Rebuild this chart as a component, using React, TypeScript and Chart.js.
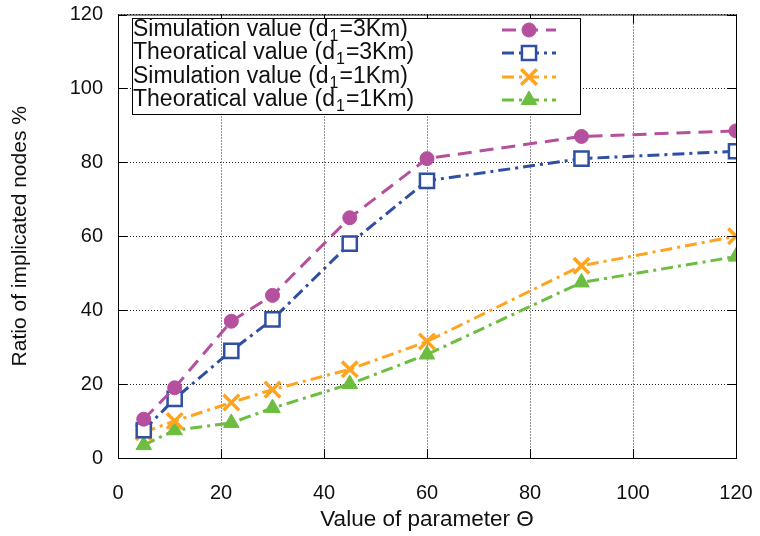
import React, { useEffect, useRef } from "react";
import { Chart, registerables } from "chart.js";
import { drawPoint } from "chart.js/helpers";

Chart.register(...registerables);

const thetaValues = [5, 11, 22, 30, 45, 60, 90, 120];
const sim3Km = [10.5, 19, 37, 44, 65, 81, 87, 88.5];
const theo3Km = [7.5, 16, 29, 37.5, 58, 75, 81, 83];
const sim1Km = [7, 10, 15, 18.5, 24, 31.5, 52, 60];
const theo1Km = [3.5, 7.5, 9.5, 13.5, 20, 28, 47.5, 54.5];

const legendNames = [
  ["Simulation value (d", "1", "=3Km)"],
  ["Theoratical value (d", "1", "=3Km)"],
  ["Simulation value (d", "1", "=1Km)"],
  ["Theoratical value (d", "1", "=1Km)"],
];

const xTitle = "Value of parameter \u0398";
const yTitle = "Ratio of implicated nodes %";

const FONT = "'Liberation Sans', Arial, sans-serif";

const toPts = (ys: number[]) => thetaValues.map((x, i) => ({ x, y: ys[i] }));

const frameAndLegend = {
  id: "frameAndLegend",
  afterDraw(chart: any) {
    const ctx = chart.ctx;
    const { left, right, top, bottom } = chart.chartArea;
    const xs = chart.scales.x;
    const ys = chart.scales.y;
    ctx.save();
    ctx.strokeStyle = "#000";
    ctx.lineWidth = 1;
    ctx.setLineDash([]);
    ctx.strokeRect(left + 0.5, top + 0.5, right - left, bottom - top);
    ctx.beginPath();
    xs.ticks.forEach((t: any) => {
      const px = Math.round(xs.getPixelForValue(t.value)) + 0.5;
      ctx.moveTo(px, bottom);
      ctx.lineTo(px, bottom - 9);
      ctx.moveTo(px, top);
      ctx.lineTo(px, top + 9);
    });
    ys.ticks.forEach((t: any) => {
      const py = Math.round(ys.getPixelForValue(t.value)) + 0.5;
      ctx.moveTo(left, py);
      ctx.lineTo(left + 9, py);
      ctx.moveTo(right, py);
      ctx.lineTo(right - 9, py);
    });
    ctx.stroke();

    const bx = 132, by = 18, bw = 448, bh = 96;
    ctx.fillStyle = "#fff";
    ctx.fillRect(bx, by, bw, bh);
    ctx.strokeStyle = "#000";
    ctx.strokeRect(bx + 0.5, by + 0.5, bw, bh);
    const rows = [30, 53, 77, 100];
    chart.data.datasets.forEach((ds: any, i: number) => {
      const yy = rows[i];
      const parts = legendNames[i];
      ctx.fillStyle = "#111";
      ctx.textBaseline = "middle";
      ctx.textAlign = "left";
      ctx.font = `23px ${FONT}`;
      let x = 133;
      ctx.fillText(parts[0], x, yy);
      x += ctx.measureText(parts[0]).width + 1;
      ctx.font = `16px ${FONT}`;
      ctx.fillText(parts[1], x, yy + 7);
      x += ctx.measureText(parts[1]).width + 1;
      ctx.font = `23px ${FONT}`;
      ctx.fillText(parts[2], x, yy);
      ctx.strokeStyle = ds.borderColor;
      ctx.lineWidth = 3;
      ctx.setLineDash(ds.borderDash || []);
      ctx.beginPath();
      ctx.moveTo(502, yy);
      ctx.lineTo(556, yy);
      ctx.stroke();
      ctx.setLineDash([]);
      ctx.fillStyle = ds.pointBackgroundColor;
      ctx.strokeStyle = ds.pointBorderColor;
      ctx.lineWidth = ds.pointBorderWidth;
      drawPoint(ctx, { pointStyle: ds.pointStyle, radius: ds.pointRadius, rotation: 0, borderWidth: ds.pointBorderWidth }, 529, yy);
    });
    ctx.restore();
  },
};

export default function App() {
  const ref = useRef<HTMLCanvasElement>(null);
  useEffect(() => {
    document.body.style.margin = "0";
    const mk = (label: string, data: number[], color: string, dash: number[], style: string, radius: number, fill: string, bw: number) => ({
      label,
      data: toPts(data),
      borderColor: color,
      backgroundColor: color,
      borderWidth: 3,
      borderDash: dash,
      pointStyle: style,
      pointRadius: radius,
      pointBackgroundColor: fill,
      pointBorderColor: color,
      pointBorderWidth: bw,
      tension: 0,
    });
    const chart = new Chart(ref.current!, {
      type: "line",
      data: {
        datasets: [
          mk("sim3", sim3Km, "#b5509e", [14, 8], "circle", 7, "#b5509e", 1),
          mk("theo3", theo3Km, "#2f4fa3", [12, 5, 3, 5], "rect", 10, "#ffffff", 2.5),
          mk("sim1", sim1Km, "#ffa41f", [12, 5, 3, 5], "crossRot", 11, "#ffa41f", 3.5),
          mk("theo1", theo1Km, "#6dbd40", [12, 5, 3, 5], "triangle", 9, "#6dbd40", 1),
        ],
      },
      options: {
        animation: false,
        responsive: false,
        layout: { padding: { top: 12, right: 24, left: 0, bottom: 0 } },
        plugins: { legend: { display: false }, tooltip: { enabled: false } },
        scales: {
          x: {
            type: "linear",
            min: 0,
            max: 120,
            afterFit: (s: any) => { s.height = 78; s.paddingLeft = 0; s.paddingRight = 0; },
            ticks: { stepSize: 20, color: "#111", font: { family: FONT, size: 20 }, padding: 23, maxRotation: 0 },
            grid: { color: "rgba(0,0,0,0.85)", drawTicks: false, lineWidth: 1 },
            border: { display: false, dash: [1, 2] },
            title: { display: true, text: xTitle, color: "#111", font: { family: FONT, size: 22.5 }, padding: { top: 0, bottom: 3 } },
          },
          y: {
            type: "linear",
            min: 0,
            max: 120,
            afterFit: (s: any) => { s.width = 118; s.paddingTop = 0; s.paddingBottom = 0; },
            ticks: { stepSize: 20, color: "#111", font: { family: FONT, size: 20 }, padding: 15 },
            grid: { color: "rgba(0,0,0,0.85)", drawTicks: false, lineWidth: 1 },
            border: { display: false, dash: [1, 2] },
            title: { display: true, text: yTitle, color: "#111", font: { family: FONT, size: 21 }, padding: { top: 8, bottom: 0 } },
          },
        },
      },
      plugins: [frameAndLegend],
    } as any);
    return () => chart.destroy();
  }, []);
  return (
    <div style={{ position: "absolute", left: 0, top: 0, width: 760, height: 536, background: "#fff" }}>
      <canvas ref={ref} width={760} height={536} style={{ width: 760, height: 536 }} />
    </div>
  );
}
